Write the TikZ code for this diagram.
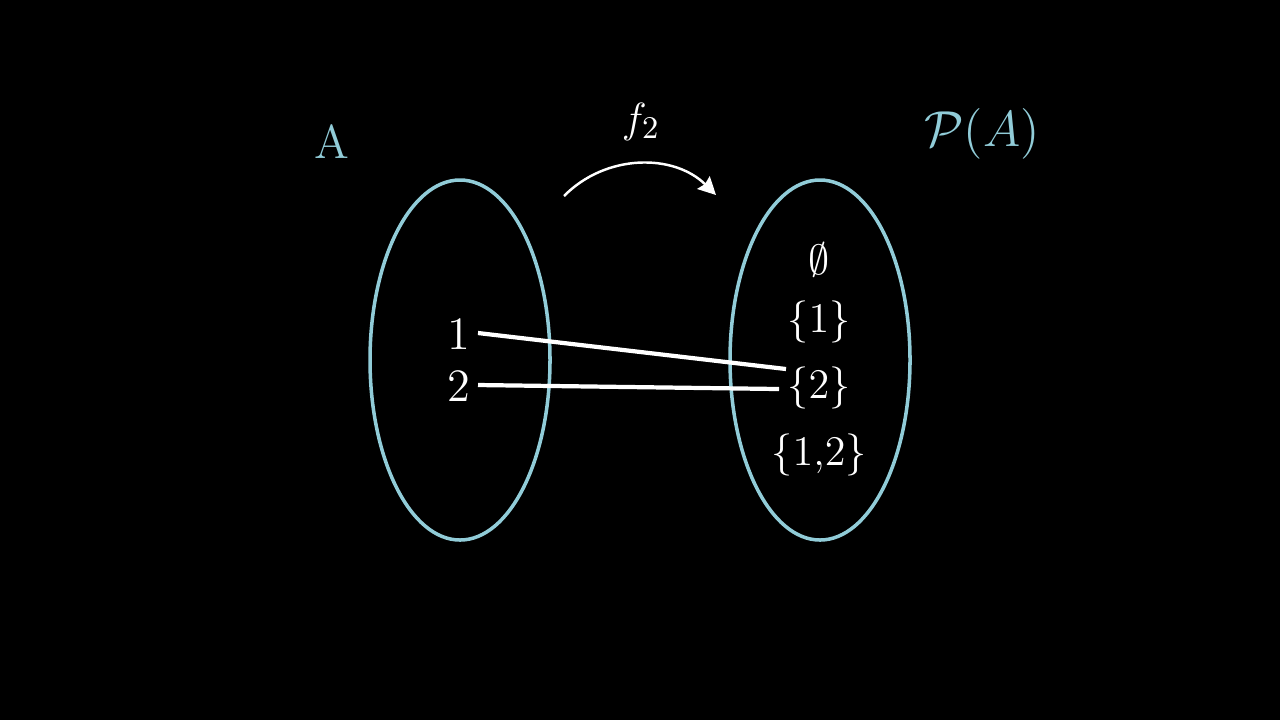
\documentclass[tikz,border=0pt]{standalone}
\usetikzlibrary{arrows.meta,calc}
\definecolor{setblue}{RGB}{145,204,216}
\tikzset{
  elem/.style={text=white,font=\fontsize{13.2}{15}\selectfont,inner sep=0pt},
  setlabel/.style={text=setblue,font=\fontsize{13.5}{16}\selectfont,inner sep=0pt},
  maplink/.style={draw=white,line width=1.2pt},
  maparrow/.style={draw=white,line width=0.7pt,-{Stealth[length=5pt,width=5pt,inset=0.6pt]}}
}
\begin{document}
\begin{tikzpicture}[x=0.01cm,y=-0.01cm]
  \fill[black] (0,0) rectangle (1280,720);
  \useasboundingbox (0,0) rectangle (1280,720);
  % sets
  \draw[setblue,line width=1pt] (460,360) ellipse [x radius=90,y radius=180];
  \draw[setblue,line width=1pt] (820,360) ellipse [x radius=90,y radius=180];
  % labels
  \node[setlabel] (lA) at (332,142) {A};
  \node[setlabel] (lP) at (982,134) {$\mathcal{P}(A)$};
  \node[elem] (lf) at (641,122) {$f_2$};
  % elements of A
  \node[elem] (a1) at (459,334) {1};
  \node[elem] (a2) at (459,386) {2};
  % elements of P(A)
  \node[elem] (p0) at (819,260) {$\emptyset$};
  \node[elem] (p1) at (819,322) {$\{1\}$};
  \node[elem] (p2) at (819,388) {$\{2\}$};
  \node[elem] (p12) at (819,455) {$\{1{,}2\}$};
  % arrow
  \coordinate (as) at (564,196);
  \coordinate (ae) at (716,195);
  \draw[maparrow] (as) to[bend left=45] (ae);
  % mapping
  \draw[maplink] ($(a1.center)+(19,-1)$) -- ($(p2.center)+(-33,-19)$);
  \draw[maplink] ($(a2.center)+(19,-1)$) -- ($(p2.center)+(-40,1)$);
\end{tikzpicture}
\end{document}
